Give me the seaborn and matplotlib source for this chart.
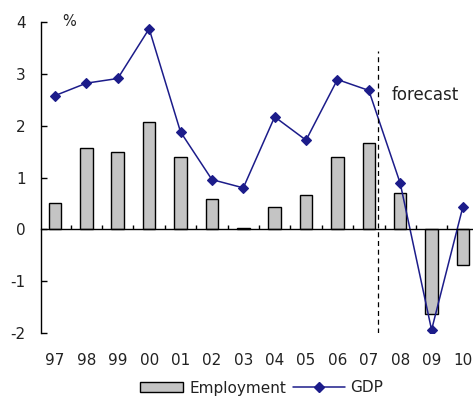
import matplotlib
matplotlib.use("Agg")
import matplotlib.pyplot as plt
import seaborn as sns
import pandas as pd
from matplotlib.patches import Patch
from matplotlib.lines import Line2D

years = ["97", "98", "99", "00", "01", "02", "03", "04", "05", "06", "07", "08", "09", "10"]
employment = [0.50, 1.56, 1.50, 2.07, 1.40, 0.58, 0.03, 0.44, 0.67, 1.40, 1.67, 0.71, -1.63, -0.68]
gdp = [2.58, 2.82, 2.91, 3.87, 1.88, 0.96, 0.80, 2.17, 1.72, 2.89, 2.68, 0.89, -1.94, 0.44]

df = pd.DataFrame({"year": years, "Employment": employment, "GDP": gdp})

sns.set_theme(style="white")
plt.rcParams["font.family"] = ["DejaVu Sans"]
plt.rcParams["axes.unicode_minus"] = False

W, H = 473, 398
fig = plt.figure(figsize=(W / 100, H / 100), dpi=100)
ax_l, ax_b, ax_r, ax_t = 41 / W, 1 - 333 / H, 1.0, 1 - 22 / H
ax = fig.add_axes([ax_l, ax_b, ax_r - ax_l, ax_t - ax_b])

bar_color = "#c4c4c4"
line_color = "#1c1c8a"

sns.barplot(data=df, x="year", y="Employment", ax=ax, color=bar_color,
            edgecolor="black", linewidth=1.0, width=0.4, saturation=1)
sns.pointplot(data=df, x="year", y="GDP", ax=ax, color=line_color,
              markers="D", markersize=5.5, linewidth=1.1)

ax.set_ylim(-2, 4)
ax.set_xlim(-0.446, 13.32)
ax.set_xlabel("")
ax.set_ylabel("")

for s in ["top", "right"]:
    ax.spines[s].set_visible(False)
ax.spines["left"].set_color("black")
ax.spines["left"].set_linewidth(1.0)
ax.spines["bottom"].set_position(("data", 0))
ax.spines["bottom"].set_color("black")
ax.spines["bottom"].set_linewidth(1.0)

ax.set_yticks([-2, -1, 0, 1, 2, 3, 4])
ax.tick_params(axis="y", direction="in", length=4, width=1, color="black",
               labelsize=11, pad=11, left=True, labelcolor="#222222")

# x labels at the bottom, zero-line ticks at category boundaries
ax.set_xticks(range(len(years)))
ax.set_xticklabels(years)
ax_h_px = 333 - 22
zero_to_label_px = (2 / 6) * ax_h_px + 20
ax.tick_params(axis="x", which="major", length=0, labelsize=11,
               pad=zero_to_label_px * 72 / 100, labelcolor="#222222")
ax.set_xticks([i + 0.5 for i in range(len(years) - 1)], minor=True)
ax.tick_params(axis="x", which="minor", direction="in", length=3, width=1,
               color="black", bottom=True)

# forecast divider
ax.vlines(10.3, -2, 3.45, colors="black", linestyles=(0, (4, 3)), linewidth=0.9)
ax.text(10.72, 2.6, "forecast", fontsize=12, ha="left", va="center", color="#222222")
ax.text(0.46, 4.0, "%", fontsize=10.5, ha="center", va="center", color="#222222")

fs = 11
em = fs * 100 / 72
leg_y = 1 - 388 / H
h1 = [Patch(facecolor=bar_color, edgecolor="black", linewidth=1.0, label="Employment")]
h2 = [Line2D([0], [0], color=line_color, marker="D", markersize=5, linewidth=1.1, label="GDP")]
leg1 = fig.legend(handles=h1, loc="center left", bbox_to_anchor=(140 / W, leg_y),
                  frameon=False, fontsize=fs, handlelength=43 / em, handleheight=0.65,
                  handletextpad=6 / em, borderaxespad=0, borderpad=0,
                  labelcolor="#222222")
leg2 = fig.legend(handles=h2, loc="center left", bbox_to_anchor=(293 / W, leg_y),
                  frameon=False, fontsize=fs, handlelength=52 / em,
                  handletextpad=5 / em, borderaxespad=0, borderpad=0,
                  labelcolor="#222222")

fig.savefig("out.png", dpi=100)
